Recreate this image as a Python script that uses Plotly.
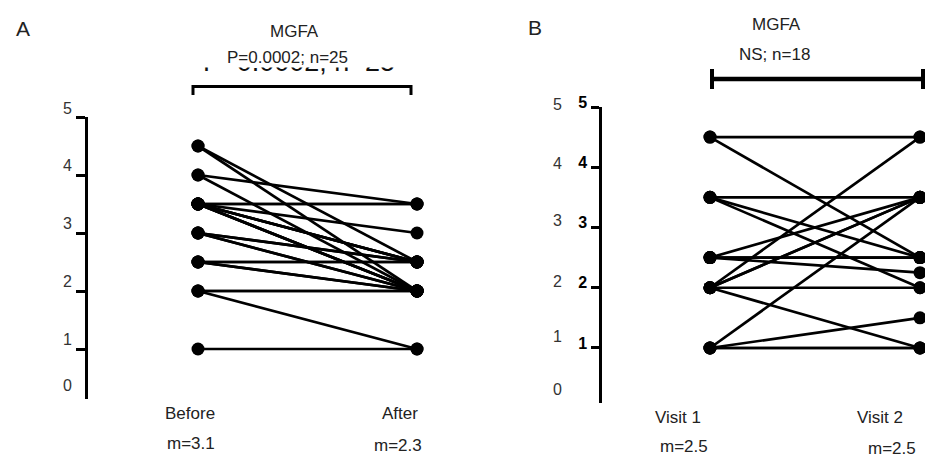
import plotly.graph_objects as go

W, H = 925, 459


def px(x):
    return x / W


def py(y):
    return 1 - y / H


# ---------------- data ----------------
a_groups = ["Before", "After"]
a_means = ["m=3.1", "m=2.3"]
a_before = [4.5, 4.5, 4, 4, 3.5, 3.5, 3.5, 3.5, 3.5, 3.5, 3.5, 3.5, 3, 3, 3, 3,
            2.5, 2.5, 2.5, 2, 2, 2, 1, 3.5, 2.5]
a_after = [2.5, 2, 3.5, 2, 3.5, 3.5, 3, 2.5, 2.5, 2, 2, 2, 2.5, 2.5, 2, 2,
           2.5, 2.5, 2, 2, 2, 1, 1, 2.5, 2]

b_groups = ["Visit 1", "Visit 2"]
b_means = ["m=2.5", "m=2.5"]
b_visit1 = [4.5, 4.5, 3.5, 3.5, 3.5, 2.5, 2.5, 2.5, 2, 2, 2, 2, 2, 1, 1, 1, 1, 2.5]
b_visit2 = [4.5, 2.5, 3.5, 2.5, 2, 3.5, 2.5, 2.25, 4.5, 3.5, 3.5, 2, 1, 3.5, 1.5, 1, 1, 2.5]

tick_vals = [1, 2, 3, 4, 5]
tick_labels = ["0", "1", "2", "3", "4", "5"]

a_title = "MGFA"
a_stat = "P=0.0002; n=25"
b_title = "MGFA"
b_stat = "NS; n=18"

FONT = "Liberation Sans, Arial, Helvetica, sans-serif"


def paired(before, after):
    xs, ys = [], []
    for b, a in zip(before, after):
        xs += [0, 1, None]
        ys += [b, a, None]
    return xs, ys


fig = go.Figure()

xa, ya = paired(a_before, a_after)
fig.add_trace(go.Scatter(x=xa, y=ya, mode="lines+markers", xaxis="x", yaxis="y",
                         line=dict(color="black", width=2.7),
                         marker=dict(color="black", size=13),
                         cliponaxis=False, hoverinfo="skip"))

xb, yb = paired(b_visit1, b_visit2)
fig.add_trace(go.Scatter(x=xb, y=yb, mode="lines+markers", xaxis="x2", yaxis="y2",
                         line=dict(color="black", width=2.7),
                         marker=dict(color="black", size=13),
                         cliponaxis=False, hoverinfo="skip"))

# larger duplicate of the statistic, clipped so only the bottom of its glyphs shows
fig.add_trace(go.Scatter(x=[0.4967], y=[0.394], mode="text", text=[a_stat],
                         textposition="top center",
                         textfont=dict(family=FONT, size=27, color="#111"),
                         xaxis="x3", yaxis="y3", cliponaxis=True, hoverinfo="skip"))

annotations = []


def ann(text, x, y, size=16, color="#222", xanchor="center"):
    annotations.append(dict(text=text, x=px(x), y=py(y), xref="paper", yref="paper",
                            xanchor=xanchor, yanchor="middle", showarrow=False,
                            font=dict(family=FONT, size=size, color=color)))


ann("A", 23, 28, size=21)
ann("B", 535, 27, size=21)
ann(a_title, 294, 31, size=17)
ann(a_stat, 287, 57, size=17)
ann(b_title, 776, 24, size=17)
ann(b_stat, 774, 55, size=17)

# category labels and means
ann(a_groups[0], 190, 413, size=17)
ann(a_groups[1], 400, 413, size=17)
ann(a_means[0], 191, 443, size=17)
ann(a_means[1], 398, 445, size=17)
ann(b_groups[0], 678, 417, size=17)
ann(b_groups[1], 880, 417, size=17)
ann(b_means[0], 684, 446, size=17)
ann(b_means[1], 892, 448.5, size=17)

# grey value labels beside the axes
a_lab_y = [385, 339, 281, 223, 165, 108]
b_lab_y = [389, 336, 281, 220, 163, 105]
for lab, yy in zip(tick_labels, a_lab_y):
    ann(lab, 67, yy, size=16, color="#333")
for lab, yy in zip(tick_labels, b_lab_y):
    ann(lab, 557, yy, size=16, color="#333")

shapes = [
    # bracket A
    dict(type="line", xref="paper", yref="paper", x0=px(193), x1=px(411),
         y0=py(86.5), y1=py(86.5), line=dict(color="black", width=3), layer="above"),
    dict(type="line", xref="paper", yref="paper", x0=px(193), x1=px(193),
         y0=py(85), y1=py(95), line=dict(color="black", width=3), layer="above"),
    dict(type="line", xref="paper", yref="paper", x0=px(411), x1=px(411),
         y0=py(85), y1=py(95), line=dict(color="black", width=3), layer="above"),
    # bracket B
    dict(type="line", xref="paper", yref="paper", x0=px(712), x1=px(925),
         y0=py(79), y1=py(79), line=dict(color="black", width=4.5), layer="above"),
    dict(type="line", xref="paper", yref="paper", x0=px(712), x1=px(712),
         y0=py(69), y1=py(89), line=dict(color="black", width=4), layer="above"),
    dict(type="line", xref="paper", yref="paper", x0=px(923), x1=px(923),
         y0=py(69), y1=py(89), line=dict(color="black", width=4), layer="above"),
]

fig.update_layout(
    width=W, height=H, autosize=False,
    margin=dict(l=0, r=0, t=0, b=0, pad=0, autoexpand=False),
    paper_bgcolor="white", plot_bgcolor="white",
    showlegend=False,
    annotations=annotations,
    shapes=shapes,
    xaxis=dict(domain=[px(88), px(460)], range=[-0.5023, 1.1963], visible=False,
               anchor="y", fixedrange=True, automargin=False),
    yaxis=dict(domain=[py(399), py(117)], range=[0.138, 5], anchor="x",
               tickvals=tick_vals, ticks="outside", ticklen=9, tickwidth=2.5,
               tickcolor="black", showline=True, linecolor="black", linewidth=2.5,
               showticklabels=False, showgrid=False, zeroline=False, fixedrange=True,
               automargin=False),
    xaxis2=dict(domain=[px(602), 1], range=[-0.5143, 1.0238], visible=False,
                anchor="y2", fixedrange=True, automargin=False),
    yaxis2=dict(domain=[py(403), py(107)], range=[0.087, 5], anchor="x2",
                tickvals=tick_vals, ticktext=["<b>%d</b>" % v for v in tick_vals],
                ticks="outside", ticklen=8, tickwidth=2.5, tickcolor="black",
                showline=True, linecolor="black", linewidth=2.5,
                tickfont=dict(family=FONT, size=16, color="black"),
                ticklabelshift=-5, ticklabelstandoff=1,
                showgrid=False, zeroline=False, fixedrange=True, automargin=False),
    xaxis3=dict(domain=[px(150), px(450)], range=[0, 1], visible=False,
                anchor="y3", fixedrange=True, automargin=False),
    yaxis3=dict(domain=[py(84), py(67.5)], range=[0, 1], visible=False,
                anchor="x3", fixedrange=True, automargin=False),
)

fig.write_html(
    "out.html",
    config={"displayModeBar": False},
    post_script="document.body.style.margin='0';document.body.style.overflow='hidden';",
)
